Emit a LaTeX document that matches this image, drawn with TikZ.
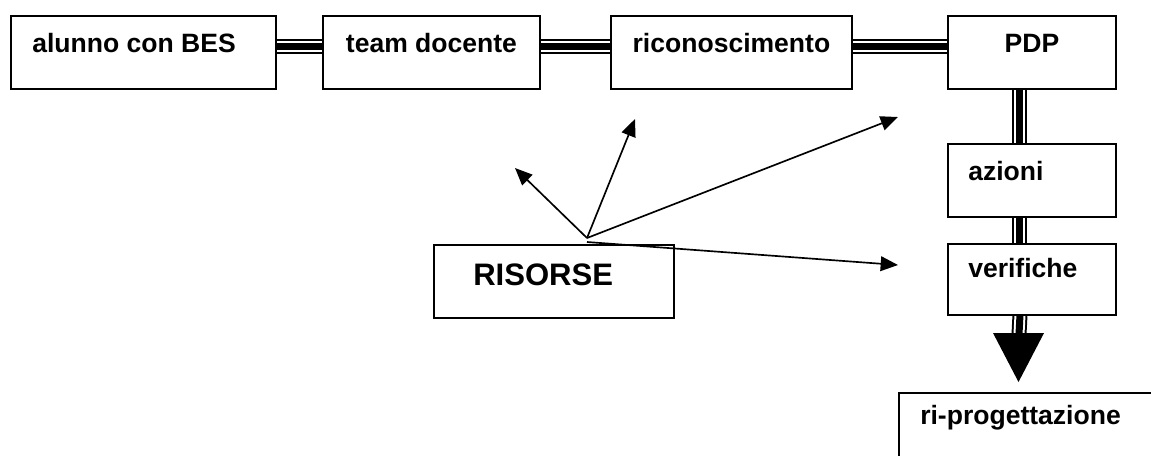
\documentclass[tikz,border=0pt]{standalone}
\usepackage{fontspec}
\setmainfont{Liberation Sans}
\usetikzlibrary{arrows.meta,calc}
\pgfdeclarelayer{bg}
\pgfsetlayers{bg,main}
\newcommand\pxu{0.75pt}
\begin{document}
\begin{tikzpicture}[x=0.75pt,y=-0.75pt,
  box/.style={draw=black, line width=1.4pt, fill=white, inner sep=0pt, anchor=north west},
  lbl/.style={font=\fontsize{19.9}{24}\selectfont\bfseries, anchor=base west, inner sep=0pt},
  clbl/.style={lbl, anchor=base},
  big/.style={font=\fontsize{23.3}{28}\selectfont\bfseries, anchor=base west, inner sep=0pt},
  triple/.style={line width=11.25pt, draw=black,
    postaction={draw=white, line width=8.25pt},
    postaction={draw=black, line width=5.25pt}},
  arr/.style={line width=1.25pt, -{Triangle[length=13pt,width=11pt]}}]
\useasboundingbox (0,0) rectangle (1151,455);
\clip (0,0) rectangle (1151,455);

% boxes
\node[box, minimum width=265*\pxu, minimum height=73*\pxu] (a) at (10,15) {};
\node[box, minimum width=217*\pxu, minimum height=73*\pxu] (b) at (322,15) {};
\node[box, minimum width=241*\pxu, minimum height=73*\pxu] (c) at (610,15) {};
\node[box, minimum width=168*\pxu, minimum height=73*\pxu] (d) at (947,15) {};
\node[box, minimum width=168*\pxu, minimum height=73*\pxu] (e) at (947,143) {};
\node[box, minimum width=168*\pxu, minimum height=71*\pxu] (f) at (947,243) {};
\node[box, minimum width=300*\pxu, minimum height=100*\pxu] (g) at (898,392) {};
\node[box, minimum width=240*\pxu, minimum height=73*\pxu] (r) at (433,244) {};

% labels
\node[lbl] (ta) at ([shift={(22,37)}]a.north west) {alunno con BES};
\node[clbl] (tb) at ([shift={(0,37)}]b.north) {team docente};
\node[clbl] (tc) at ([shift={(0,37)}]c.north) {riconoscimento};
\node[clbl] (td) at ([shift={(0,37)}]d.north) {PDP};
\node[lbl] (te) at ([shift={(21,37)}]e.north west) {azioni};
\node[lbl] (tf) at ([shift={(21,34)}]f.north west) {verifiche};
\node[lbl] (tg) at ([shift={(22,32)}]g.north west) {ri-progettazione};
\node[big] (tr) at ([shift={(40,41)}]r.north west) {RISORSE};

% triple connectors
\begin{pgfonlayer}{bg}
\draw[triple] ([yshift=4.5pt]a.east) -- ([yshift=4.5pt]b.west);
\draw[triple] ([yshift=4.5pt]b.east) -- ([yshift=4.5pt]c.west);
\draw[triple] ([yshift=4.5pt]c.east) -- ([yshift=4.5pt]d.west);
\draw[triple] ([xshift=-9pt]d.south) -- ([xshift=-9pt]e.north);
\draw[triple] ([xshift=-9pt]e.south) -- ([xshift=-9pt]f.north);
\coordinate (hb) at (1019,334);
\draw[triple] ([xshift=-9pt]f.south) -- (hb);
\end{pgfonlayer}
\coordinate (hl) at (993,333);
\coordinate (hr) at (1044,333);
\coordinate (ht) at (1018.5,382);
\fill[black] (hl) -- (hr) -- (ht) -- cycle;

% RISORSE arrows
\coordinate (o) at (587,238);
\coordinate (o2) at (587,242);
\coordinate (pl) at (515,168);
\coordinate (pu) at (635,119);
\coordinate (pr) at (898,117);
\coordinate (pb) at (898,265);
\draw[arr] (o) -- (pl);
\draw[arr] (o) -- (pu);
\draw[arr] (o) -- (pr);
\draw[arr] (o2) -- (pb);
\end{tikzpicture}
\end{document}
